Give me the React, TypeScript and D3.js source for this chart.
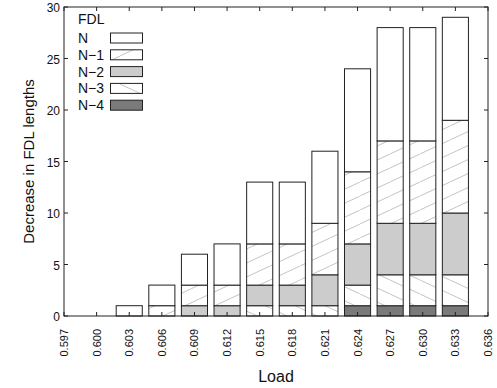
import React from "react";
import * as d3 from "d3";

// Load levels (x categories) and stacked FDL decrease per series
const loads = [0.597, 0.6, 0.603, 0.606, 0.609, 0.612, 0.615, 0.618, 0.621, 0.624, 0.627, 0.63, 0.633, 0.636];
const seriesN4 = [0, 0, 0, 0, 0, 0, 0, 0, 0, 1, 1, 1, 1, 0];
const seriesN3 = [0, 0, 0, 0, 0, 0, 1, 1, 1, 2, 3, 3, 3, 0];
const seriesN2 = [0, 0, 0, 0, 1, 1, 2, 2, 3, 4, 5, 5, 6, 0];
const seriesN1 = [0, 0, 0, 1, 2, 2, 4, 4, 5, 7, 8, 8, 9, 0];
const seriesN = [0, 0, 1, 2, 3, 4, 6, 6, 7, 10, 11, 11, 10, 0];
const yTicks = [0, 5, 10, 15, 20, 25, 30];
const legendLabels = ["N", "N\u22121", "N\u22122", "N\u22123", "N\u22124"];

const W = 497;
const H = 388;
const M = { left: 64, right: 488, top: 7, bottom: 316 };
const FONT = "'Liberation Sans', Arial, sans-serif";
const EDGE = "#222";

const fills: Record<string, string> = {
  N: "#ffffff",
  N1: "url(#hatchUp)",
  N2: "#cccccc",
  N3: "url(#hatchDown)",
  N4: "#7a7a7a",
};

export default function App() {
  const x = d3.scaleLinear().domain([0.597, 0.636]).range([M.left, M.right]);
  const y = d3.scaleLinear().domain([0, 30]).range([M.bottom, M.top]);
  const step = x(loads[1]) - x(loads[0]);
  const barW = step * 0.8;

  const table = loads.map((l, i) => ({
    load: l,
    N4: seriesN4[i],
    N3: seriesN3[i],
    N2: seriesN2[i],
    N1: seriesN1[i],
    N: seriesN[i],
  }));
  const keys = ["N4", "N3", "N2", "N1", "N"];
  const stacked = d3.stack<any>().keys(keys)(table);
  const legendKeys = ["N", "N1", "N2", "N3", "N4"];

  const tickLen = 4;

  return (
    <svg width={W} height={H} style={{ position: "absolute", left: 0, top: 0, background: "#fff" }}>
      <defs>
        <pattern id="hatchUp" patternUnits="userSpaceOnUse" width={30} height={14}>
          <rect width={30} height={14} fill="#fff" />
          <line x1={-3} y1={15.4} x2={33} y2={-1.4} stroke="#c4c4c4" strokeWidth={1} />
        </pattern>
        <pattern id="hatchDown" patternUnits="userSpaceOnUse" width={30} height={14}>
          <rect width={30} height={14} fill="#fff" />
          <line x1={-3} y1={-1.4} x2={33} y2={15.4} stroke="#c4c4c4" strokeWidth={1} />
        </pattern>
      </defs>

      {/* stacked bars */}
      {stacked.map((layer) =>
        layer.map((d, i) => {
          const h = y(d[0]) - y(d[1]);
          if (h <= 0) return null;
          return (
            <rect
              key={layer.key + i}
              x={x(loads[i]) - barW / 2}
              y={y(d[1])}
              width={barW}
              height={h}
              fill={fills[layer.key as string]}
              stroke={EDGE}
              strokeWidth={1}
            />
          );
        })
      )}

      {/* axis box */}
      <rect x={M.left} y={M.top} width={M.right - M.left} height={M.bottom - M.top} fill="none" stroke={EDGE} strokeWidth={1} />

      {/* x ticks (bottom and top, inward) */}
      {loads.map((l) => (
        <g key={"xt" + l}>
          <line x1={x(l)} x2={x(l)} y1={M.bottom} y2={M.bottom - tickLen} stroke={EDGE} />
          <line x1={x(l)} x2={x(l)} y1={M.top} y2={M.top + tickLen} stroke={EDGE} />
          <text
            transform={`translate(${x(l) + 4},${M.bottom + 13}) rotate(-90)`}
            textAnchor="end"
            fontFamily={FONT}
            fontSize={11}
            fill="#111"
          >
            {l.toFixed(3)}
          </text>
        </g>
      ))}

      {/* y ticks (left and right, inward) */}
      {yTicks.map((t) => (
        <g key={"yt" + t}>
          <line x1={M.left} x2={M.left + tickLen} y1={y(t)} y2={y(t)} stroke={EDGE} />
          <line x1={M.right} x2={M.right - tickLen} y1={y(t)} y2={y(t)} stroke={EDGE} />
          <text x={M.left - 4} y={y(t) + 5} textAnchor="end" fontFamily={FONT} fontSize={12} fill="#111">
            {t}
          </text>
        </g>
      ))}

      {/* axis titles */}
      <text x={(M.left + M.right) / 2} y={382} textAnchor="middle" fontFamily={FONT} fontSize={16} fill="#111">
        Load
      </text>
      <text
        transform={`translate(34,${(M.top + M.bottom) / 2}) rotate(-90)`}
        textAnchor="middle"
        fontFamily={FONT}
        fontSize={15}
        fill="#111"
      >
        Decrease in FDL lengths
      </text>

      {/* legend */}
      <g fontFamily={FONT} fontSize={14} fill="#111">
        <text x={78} y={24}>FDL</text>
        {legendKeys.map((k, i) => {
          const cy = 38 + i * 16.8;
          return (
            <g key={"lg" + k}>
              <text x={78} y={cy + 5}>{legendLabels[i]}</text>
              <rect x={110.5} y={cy - 5} width={32} height={10} fill={fills[k]} stroke={EDGE} strokeWidth={1} />
            </g>
          );
        })}
      </g>
    </svg>
  );
}
